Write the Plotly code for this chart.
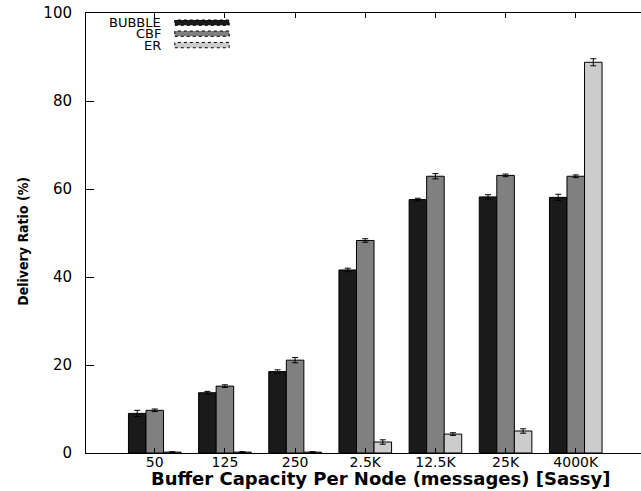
import plotly.graph_objects as go

categories = ["50", "125", "250", "2.5K", "12.5K", "25K", "4000K"]
bubble = [9.0, 13.7, 18.5, 41.6, 57.6, 58.2, 58.1]
bubble_err = [0.7, 0.3, 0.4, 0.4, 0.3, 0.5, 0.7]
cbf = [9.7, 15.2, 21.1, 48.3, 62.9, 63.1, 62.9]
cbf_err = [0.3, 0.3, 0.6, 0.4, 0.6, 0.3, 0.3]
er = [0.2, 0.2, 0.2, 2.5, 4.3, 5.0, 88.8]
er_err = [0.1, 0.1, 0.1, 0.5, 0.3, 0.5, 0.8]

series = [
    ("BUBBLE", bubble, bubble_err, "#1a1a1a"),
    ("CBF", cbf, cbf_err, "#808080"),
    ("ER", er, er_err, "#cccccc"),
]

fig = go.Figure()
for name, vals, errs, col in series:
    fig.add_trace(go.Bar(
        x=categories, y=vals, name=name,
        marker=dict(color=col, line=dict(color="#000000", width=1)),
        error_y=dict(type="data", array=errs, color="#000000", thickness=1, width=3),
        width=0.25,
        showlegend=False,
    ))

fig.update_layout(
    width=641, height=491,
    margin=dict(l=86, r=0, t=13, b=38),
    barmode="group", bargap=0.25, bargroupgap=0,
    plot_bgcolor="white", paper_bgcolor="white",
    font=dict(family="DejaVu Sans, sans-serif", color="black"),
)
fig.update_xaxes(
    range=[-0.98, 6.93], showgrid=False, showline=True, linecolor="black", linewidth=1,
    mirror="ticks", ticks="inside", ticklen=5, tickcolor="black",
    tickfont=dict(size=14), ticklabelstandoff=-4,
)
fig.update_yaxes(
    range=[0, 100], dtick=20, showgrid=False, showline=True, linecolor="black", linewidth=1,
    mirror=False, ticks="inside", ticklen=8, tickcolor="black",
    tickfont=dict(size=15), zeroline=False, ticklabelstandoff=10,
)

fig.add_annotation(xref="paper", yref="paper", x=-0.1135, y=0.48,
                   text="<b>Delivery Ratio (%)</b>", textangle=-90,
                   showarrow=False, xanchor="center", yanchor="middle",
                   font=dict(size=14, family="DejaVu Sans Condensed, DejaVu Sans, sans-serif",
                             color="black"))

fig.add_annotation(xref="paper", yref="paper", x=0.531, y=-0.057,
                   text="<b>Buffer Capacity Per Node (messages) [Sassy]</b>",
                   showarrow=False, xanchor="center", yanchor="middle",
                   font=dict(size=18, color="black"))

# custom legend (text right-aligned, swatch to the right)
leg_y = [0.978, 0.953, 0.927]
for (name, _, _, col), yy in zip(series, leg_y):
    fig.add_annotation(xref="paper", yref="paper", x=0.139, y=yy, text=name,
                       showarrow=False, xanchor="right", yanchor="middle",
                       font=dict(size=13, color="black"))
    fig.add_shape(type="rect", xref="paper", yref="paper",
                  x0=0.160, x1=0.258, y0=yy - 0.006, y1=yy + 0.006,
                  fillcolor=col, line=dict(color="black", width=1, dash="dot"))

fig.write_html("out.html", config={"displayModeBar": False},
               post_script="document.body.style.margin='0';")
